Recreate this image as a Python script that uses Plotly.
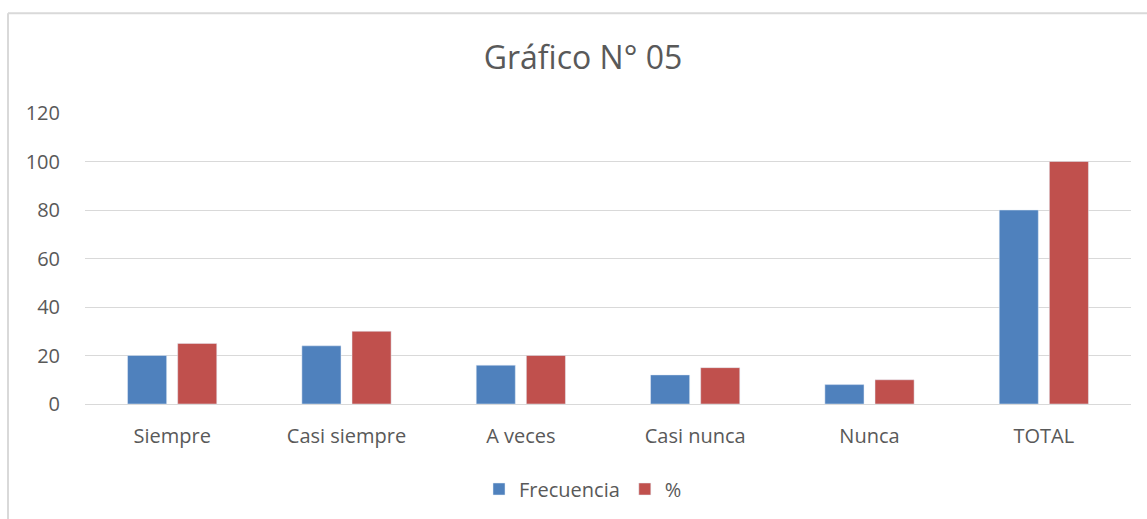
import plotly.graph_objects as go

categories = ["Siempre", "Casi siempre", "A veces", "Casi nunca", "Nunca", "TOTAL"]
frecuencia = [20, 24, 16, 12, 8, 80]
porcentaje = [25, 30, 20, 15, 10, 100]
y_ticks = [0, 20, 40, 60, 80, 100, 120]

W, H = 1147, 519
ml, mr, mt, mb = 85, 16, 113, 114
pw, ph = W - ml - mr, H - mt - mb

fig = go.Figure()
fig.add_trace(go.Bar(name="Frecuencia", x=categories, y=frecuencia, marker_color="#4f81bd"))
fig.add_trace(go.Bar(name="%", x=categories, y=porcentaje, marker_color="#c0504d"))

font = "Open Sans, Liberation Sans, sans-serif"
fig.update_layout(
    width=W, height=H,
    margin=dict(l=ml, r=mr, t=mt, b=mb),
    paper_bgcolor="white", plot_bgcolor="white",
    barmode="group", bargap=0.425, bargroupgap=0.22,
    title=dict(text="Gráfico N° 05", x=583 / W, xanchor="center",
               y=1 - 58 / H, yanchor="middle",
               font=dict(family=font, size=32, color="#595959")),
    font=dict(family=font, size=20, color="#595959"),
    legend=dict(orientation="h", x=(583 - ml) / pw,
                xanchor="center", y=-(489 - 405) / ph, yanchor="middle",
                font=dict(size=20, color="#595959"), itemwidth=30,
                tracegroupgap=0),
    showlegend=True,
)
fig.update_xaxes(showgrid=False, showline=False, ticks="", ticklabelstandoff=18,
                 tickfont=dict(size=20, color="#595959"))
fig.update_yaxes(range=[0, 120], tickvals=y_ticks, showgrid=True, gridcolor="#d9d9d9", gridwidth=1,
                 zeroline=True, zerolinecolor="#d9d9d9", zerolinewidth=1,
                 ticks="", ticklabelstandoff=24, tickfont=dict(size=20, color="#595959"))

bx0 = (8 - ml) / pw
by1 = (H - mb - 13) / ph
fig.add_shape(type="line", xref="paper", yref="paper", x0=bx0, x1=bx0, y0=-1, y1=by1,
              line=dict(color="#d9d9d9", width=2))
fig.add_shape(type="line", xref="paper", yref="paper", x0=bx0, x1=1.2, y0=by1, y1=by1,
              line=dict(color="#d9d9d9", width=2))

fig.write_html("out.html", config={"displayModeBar": False},
               post_script="document.body.style.margin='0';document.body.style.overflow='hidden';")
